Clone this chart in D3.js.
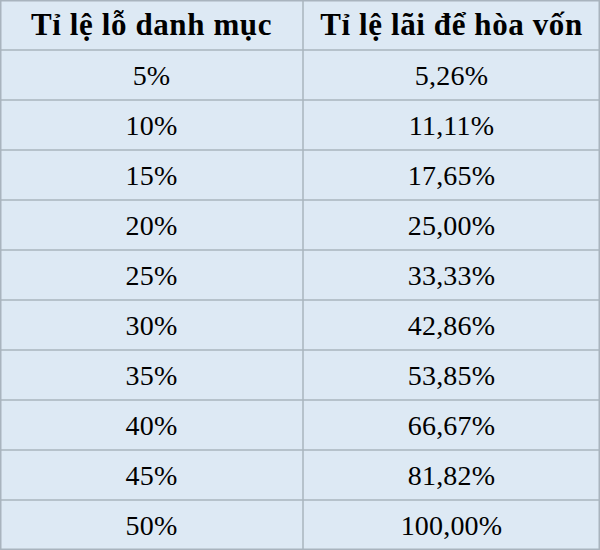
<!DOCTYPE html><html><head><meta charset="utf-8"><script src="https://d3js.org/d3.v7.min.js"></script>
<style>body{margin:0;background:#fff}</style></head><body><svg id="c" width="600" height="550"></svg>
<script>
const headers=["Tỉ lệ lỗ danh mục","Tỉ lệ lãi để hòa vốn"];
const losses=["5%","10%","15%","20%","25%","30%","35%","40%","45%","50%"];
const gains=["5,26%","11,11%","17,65%","25,00%","33,33%","42,86%","53,85%","66,67%","81,82%","100,00%"];
const svg=d3.select("#c");
const rows=[headers].concat(losses.map((l,i)=>[l,gains[i]]));
const y=d3.scaleBand().domain(d3.range(rows.length)).range([0,550]);
const x=d3.scaleOrdinal().domain([0,1]).range([0,303]);
const w=[303,297];
svg.append("rect").attr("width",600).attr("height",550).attr("fill","#dde9f4");
const g=svg.selectAll("g.r").data(rows).join("g").attr("transform",(d,i)=>`translate(0,${y(i)})`);
g.selectAll("text").data((d,i)=>d.map((v,j)=>({v,j,h:i===0}))).join("text")
 .attr("x",d=>x(d.j)+w[d.j]/2).attr("y",y.bandwidth()/2+10).attr("text-anchor","middle")
 .attr("font-family","Liberation Serif, DejaVu Serif, serif").attr("font-size",d=>d.h?31:28)
 .attr("letter-spacing",d=>d.h?0.6:0.2)
 .attr("font-weight",d=>d.h?"bold":"normal").attr("fill","#000").text(d=>d.v);
const ln=svg.append("g").attr("stroke","#a9b4be").attr("stroke-width",1.5);
d3.range(1,rows.length).forEach(i=>ln.append("line").attr("x1",0).attr("x2",600).attr("y1",y(i)).attr("y2",y(i)));
ln.append("line").attr("x1",303).attr("x2",303).attr("y1",0).attr("y2",550);
ln.append("rect").attr("x",0.75).attr("y",0.75).attr("width",598.5).attr("height",548.5).attr("fill","none");
</script></body></html>
